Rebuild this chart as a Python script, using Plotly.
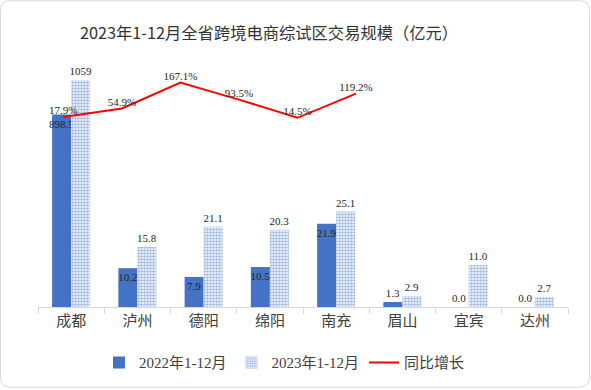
import plotly.graph_objects as go

# ---- data ----
categories = ['成都', '泸州', '德阳', '绵阳', '南充', '眉山', '宜宾', '达州']
values_2022 = [898.5, 10.2, 7.9, 10.5, 21.9, 1.3, 0.0, 0.0]
values_2023 = [1059, 15.8, 21.1, 20.3, 25.1, 2.9, 11.0, 2.7]
growth_categories = ['成都', '泸州', '德阳', '绵阳', '南充', '眉山']
growth_pct = [17.9, 54.9, 167.1, 93.5, 14.5, 119.2]
big_categories = ['成都']   # drawn against its own (hidden) scale, as in the source

# ---- layout geometry ----
W, H = 591, 390
ML, MR, MT, MB = 38, 23, 60, 82
PW, PH = W - ML - MR, H - MT - MB

BLUE = '#4472C4'
TXT = '#262626'
SERIF = 'Liberation Serif, Noto Sans CJK SC, serif'
PATTERN = dict(shape='.', fgcolor=BLUE, bgcolor='white', size=3, solidity=0.6,
               fillmode='overlay')


def fmt(v):
    return f"{v:.0f}" if v >= 1000 else f"{v:.1f}"


def split(vals):
    small = [None if c in big_categories else v for c, v in zip(categories, vals)]
    big = [v if c in big_categories else None for c, v in zip(categories, vals)]
    return small, big


s22, b22 = split(values_2022)
s23, b23 = split(values_2023)

fig = go.Figure()

pos22 = ['inside' if (v is not None and v >= 5) else 'outside' for v in s22]
lab_font = dict(family=SERIF, size=11, color=TXT)

fig.add_trace(go.Bar(
    x=categories, y=s22, name='2022年1-12月', offsetgroup='a',
    marker=dict(color=BLUE, line=dict(width=0)),
    text=[fmt(v) if v is not None else '' for v in s22],
    textposition=pos22, insidetextanchor='end', textangle=0,
    textfont=lab_font, insidetextfont=lab_font, outsidetextfont=lab_font,
    cliponaxis=False, xaxis='x', yaxis='y', legendrank=1,
))
fig.add_trace(go.Bar(
    x=categories, y=s23, name='2023年1-12月', offsetgroup='b',
    marker=dict(color='white', line=dict(width=0), pattern=PATTERN),
    text=[fmt(v) if v is not None else '' for v in s23],
    textposition='outside', textangle=0,
    textfont=lab_font, outsidetextfont=lab_font,
    cliponaxis=False, xaxis='x', yaxis='y', legendrank=2,
))
fig.add_trace(go.Bar(
    x=categories, y=b22, name='2022年1-12月', offsetgroup='a', showlegend=False,
    marker=dict(color=BLUE, line=dict(width=0)),
    text=[fmt(v) if v is not None else '' for v in b22],
    textposition='inside', insidetextanchor='end', textangle=0,
    textfont=lab_font, insidetextfont=lab_font,
    cliponaxis=False, xaxis='x', yaxis='y2',
))
fig.add_trace(go.Bar(
    x=categories, y=b23, name='2023年1-12月', offsetgroup='b', showlegend=False,
    marker=dict(color='white', line=dict(width=0), pattern=PATTERN),
    text=[fmt(v) if v is not None else '' for v in b23],
    textposition='outside', textangle=0,
    textfont=lab_font, outsidetextfont=lab_font,
    cliponaxis=False, xaxis='x', yaxis='y2',
))
fig.add_trace(go.Scatter(
    x=growth_categories, y=growth_pct, name='同比增长', mode='lines+text',
    line=dict(color='#FF0000', width=2),
    text=[f"{v:.1f}%" for v in growth_pct], textposition='top center',
    textfont=lab_font,
    cliponaxis=False, xaxis='x2', yaxis='y3', legendrank=3,
))


# rounded border around the whole picture (paper coords computed from pixels)
def px(xp):
    return (xp - ML) / PW


def py(yp):
    return (H - MB - yp) / PH


x0, x1, y0, y1, r = 0.5, W - 1.5, 0.5, H - 1.5, 10
path = (f"M {px(x0 + r)} {py(y0)} L {px(x1 - r)} {py(y0)} "
        f"Q {px(x1)} {py(y0)} {px(x1)} {py(y0 + r)} "
        f"L {px(x1)} {py(y1 - r)} Q {px(x1)} {py(y1)} {px(x1 - r)} {py(y1)} "
        f"L {px(x0 + r)} {py(y1)} Q {px(x0)} {py(y1)} {px(x0)} {py(y1 - r)} "
        f"L {px(x0)} {py(y0 + r)} Q {px(x0)} {py(y0)} {px(x0 + r)} {py(y0)} Z")

small_scale = 3.82     # px per unit
big_scale = 0.215      # px per unit
line_scale = 0.2313    # px per %
line_zero_px = 121.4   # pixel row of 0 %

fig.update_layout(
    width=W, height=H,
    margin=dict(l=ML, r=MR, t=MT, b=MB, pad=0),
    paper_bgcolor='white', plot_bgcolor='white',
    barmode='group', bargap=0.426, bargroupgap=0,
    uniformtext=dict(minsize=11, mode='show'),
    title=dict(text='2023年1-12月全省跨境电商综试区交易规模（亿元）',
               x=269 / W, xanchor='center', y=1 - 33 / H, yanchor='middle',
               font=dict(family='Noto Sans CJK SC', size=16.3, color='#333333')),
    xaxis=dict(type='category', categoryorder='array', categoryarray=categories,
               showline=True, linecolor='#D9D9D9', linewidth=1,
               ticks='outside', tickson='boundaries', ticklen=6, tickcolor='#D9D9D9',
               showgrid=False, zeroline=False,
               tickfont=dict(family=SERIF, size=15, color='#404040')),
    xaxis2=dict(type='category', categoryorder='array', categoryarray=categories,
                overlaying='x', visible=False,
                range=[(ML - 63.3) / 58.54, (ML + PW - 63.3) / 58.54]),
    yaxis=dict(range=[0, PH / small_scale], visible=False, showgrid=False, zeroline=False),
    yaxis2=dict(range=[0, PH / big_scale], overlaying='y', visible=False,
                showgrid=False, zeroline=False),
    yaxis3=dict(range=[-(H - MB - line_zero_px) / line_scale, (line_zero_px - MT) / line_scale],
                overlaying='y', anchor='x2', visible=False, showgrid=False, zeroline=False),
    legend=dict(orientation='h', x=(284.5 - ML) / PW, xanchor='center',
                y=-(362.7 - (H - MB)) / PH, yanchor='middle',
                font=dict(family=SERIF, size=15, color='#404040'),
                traceorder='normal', itemwidth=30, bgcolor='rgba(0,0,0,0)'),
    shapes=[dict(type='path', path=path, xref='paper', yref='paper',
                 line=dict(color='#D9D9D9', width=1), layer='below')],
    showlegend=True,
)

fig.write_html('out.html', config={'displayModeBar': False},
               post_script="document.body.style.margin='0';document.body.style.overflow='hidden';")
